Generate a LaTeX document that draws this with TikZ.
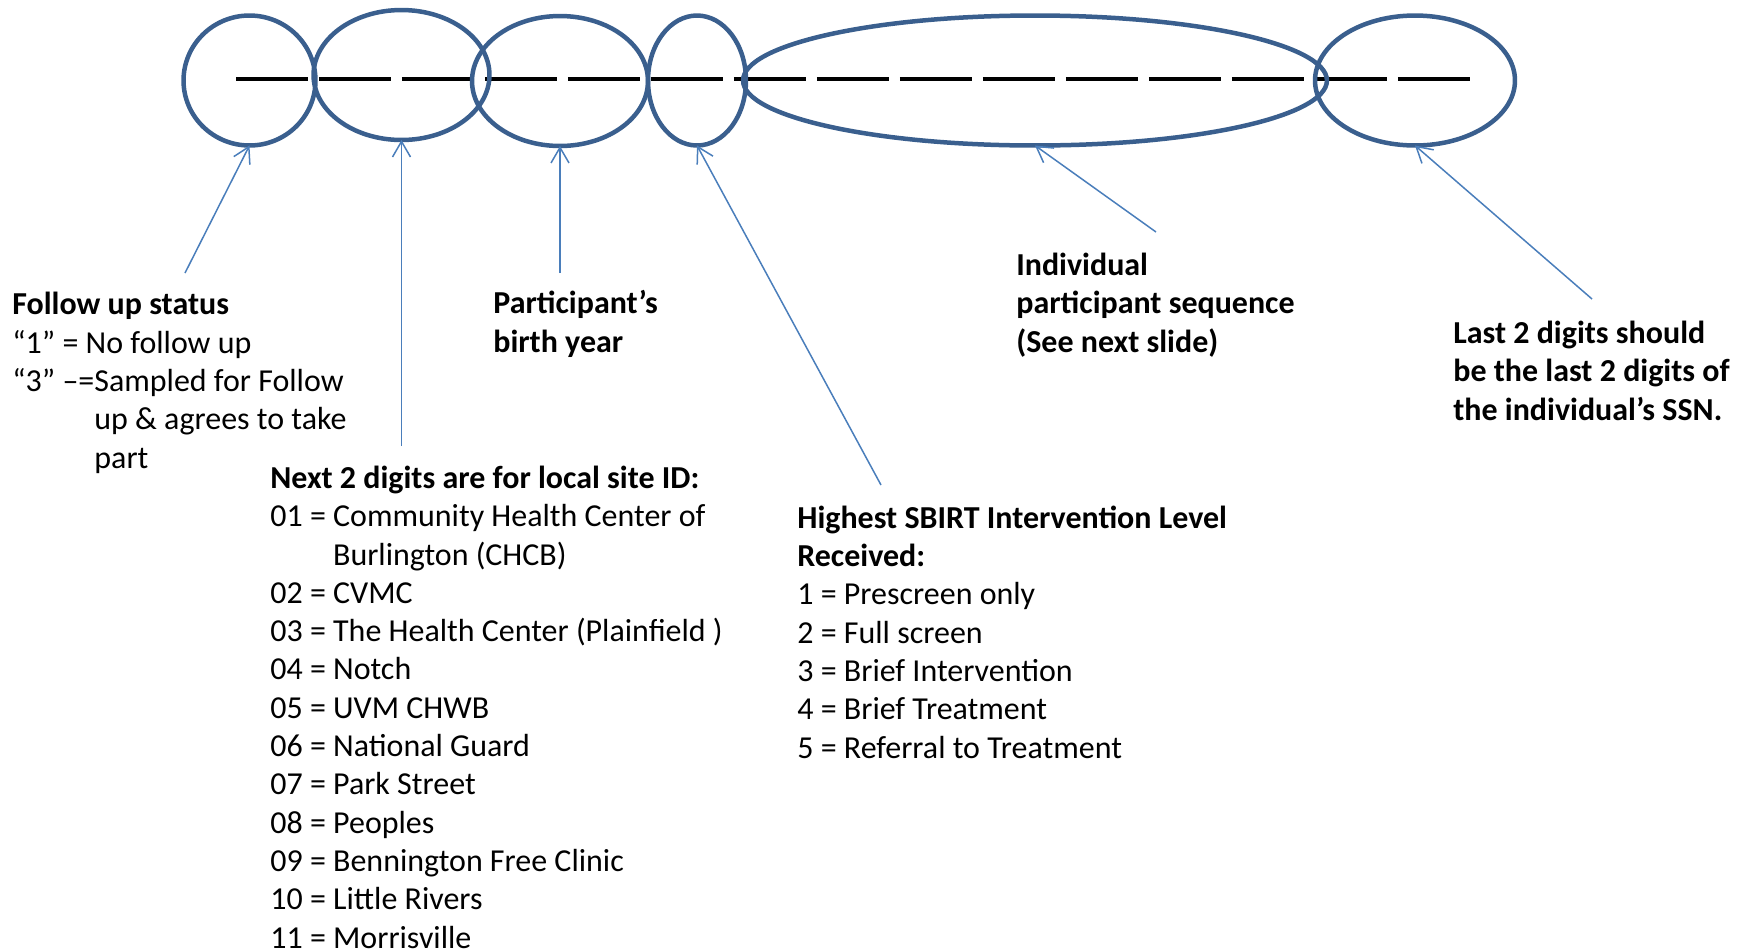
\documentclass[tikz,border=0pt]{standalone}
\usepackage{fontspec}
\setmainfont{Carlito}
\usetikzlibrary{shapes.geometric,arrows.meta}
\definecolor{ringblue}{HTML}{3A5F8E}
\definecolor{lineblue}{HTML}{4A7EBB}

\begin{document}
\begin{tikzpicture}[x=0.02cm,y=-0.02cm,
    ring/.style={ellipse,draw=ringblue,line width=0.09cm,inner sep=0,outer sep=0,minimum height=2.6cm},
    pointer/.style={draw=lineblue,line width=0.03cm,-{Straight Barb[length=3.1mm,width=3.6mm]}},
    txt/.style={anchor=base west,align=left,inner sep=0,font=\fontsize{18.2}{21.8}\selectfont}]
        \useasboundingbox (0,0) rectangle (1748,951);

        \draw[line width=0.07cm,dash pattern=on 1.44cm off 0.22cm] (236,79) -- (1470,79);

        \node[ring,minimum width=2.64cm] (A) at (249.5,80.5) {};
        \node[ring,minimum width=3.52cm] (B) at (401.5,75) {};
        \node[ring,minimum width=3.52cm] (C) at (560,81) {};
        \node[ring,minimum width=1.96cm] (D) at (697,80.5) {};
        \node[ring,minimum width=11.68cm] (E) at (1035,80.5) {};
        \node[ring,minimum width=4.0cm] (F) at (1415,80.5) {};

        \coordinate (a) at (185,273);
        \coordinate (b) at (401.5,446);
        \coordinate (c) at (560,273);
        \coordinate (d) at (881,485);
        \coordinate (e) at (1156,232);
        \coordinate (f) at (1592,299);

        \draw[pointer] (a) -- (A.south);
        \draw[pointer] (b) -- (B.south);
        \draw[pointer] (c) -- (C.south);
        \draw[pointer] (d) -- (D.south);
        \draw[pointer] (e) -- (E.south);
        \draw[pointer] (f) -- (F.south);

        \node[txt] (status) at (12,468) {\textbf{Follow up status}\\“1” = No follow up\\“3” –=Sampled for Follow\\\phantom{“3” –=}up \& agrees to take\\\phantom{“3” –=}part};
        \node[txt] (site) at (270,948) {\textbf{Next 2 digits are for local site ID:}\\01 = Community Health Center of\\\phantom{01 = }Burlington (CHCB)\\02 = CVMC\\03 = The Health Center (Plainfield )\\04 = Notch\\05 = UVM CHWB\\06 = National Guard\\07 = Park Street\\08 = Peoples\\09 = Bennington Free Clinic\\10 = Little Rivers\\11 = Morrisville};
        \node[txt,font=\fontsize{18.2}{21.8}\selectfont\bfseries] (year) at (493,352) {Participant’s\\birth year};
        \node[txt] (level) at (797,758) {\textbf{Highest SBIRT Intervention Level}\\\textbf{Received:}\\1 = Prescreen only\\2 = Full screen\\3 = Brief Intervention\\4 = Brief Treatment\\5 = Referral to Treatment};
        \node[txt,font=\fontsize{18.2}{21.8}\selectfont\bfseries] (seq) at (1016,352) {Individual\\participant sequence\\(See next slide)};
        \node[txt,font=\fontsize{18.2}{21.8}\selectfont\bfseries] (ssn) at (1453,420) {Last 2 digits should\\be the last 2 digits of\\the individual’s SSN.};
\end{tikzpicture}
\end{document}
